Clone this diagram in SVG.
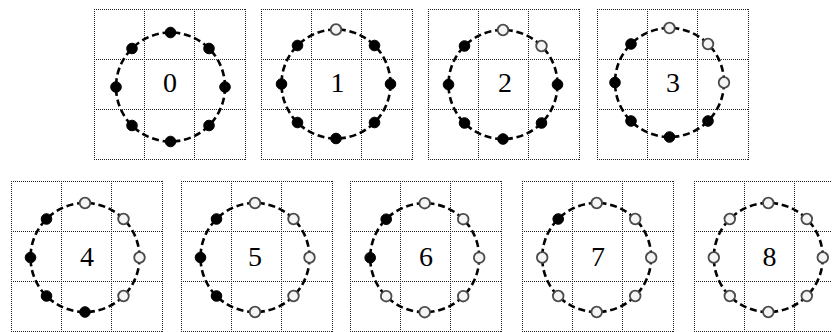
<svg xmlns="http://www.w3.org/2000/svg" width="832" height="332" viewBox="0 0 832 332">
<style>
.grid{fill:none;stroke:#222;stroke-width:1;stroke-dasharray:1 1}
.ring{fill:none;stroke:#000;stroke-width:2.6;stroke-dasharray:7 3.8}
.b{fill:#000;stroke:#000;stroke-width:1}
.w{fill:#f4f4f4;stroke:#4a4a4a;stroke-width:1.8}
.lbl{font-family:"Liberation Serif","Times New Roman",serif;font-size:28px;fill:#000;text-anchor:middle}
</style>
<defs>
<path id="gridp" class="grid" d="M0 0.5H152 M0 50.5H152 M0 100.5H152 M0 150.5H152 M0.5 0V151 M50.5 0V151 M100.5 0V151 M151.5 0V151"/>
</defs>
<rect width="832" height="332" fill="#fff"/>

<g id="panel0">
<use href="#gridp" x="94" y="9"/>
<g transform="translate(170.5 87)">
<circle class="ring" r="54.5"/>
<circle class="b" cx="0" cy="-54.5" r="5.3"/><circle class="b" cx="38.5" cy="-38.5" r="5.3"/><circle class="b" cx="54.5" cy="0" r="5.3"/><circle class="b" cx="38.5" cy="38.5" r="5.3"/><circle class="b" cx="0" cy="54.5" r="5.3"/><circle class="b" cx="-38.5" cy="38.5" r="5.3"/><circle class="b" cx="-54.5" cy="0" r="5.3"/><circle class="b" cx="-38.5" cy="-38.5" r="5.3"/>
</g>
<text class="lbl" x="170" y="92">0</text>
</g>

<g id="panel1">
<use href="#gridp" x="261" y="9"/>
<g transform="translate(336 84)">
<circle class="ring" r="54.5"/>
<circle class="w" cx="0" cy="-54.5" r="5.3"/><circle class="b" cx="38.5" cy="-38.5" r="5.3"/><circle class="b" cx="54.5" cy="0" r="5.3"/><circle class="b" cx="38.5" cy="38.5" r="5.3"/><circle class="b" cx="0" cy="54.5" r="5.3"/><circle class="b" cx="-38.5" cy="38.5" r="5.3"/><circle class="b" cx="-54.5" cy="0" r="5.3"/><circle class="b" cx="-38.5" cy="-38.5" r="5.3"/>
</g>
<text class="lbl" x="337.5" y="92">1</text>
</g>

<g id="panel2">
<use href="#gridp" x="428" y="9"/>
<g transform="translate(503 84.5)">
<circle class="ring" r="54.5"/>
<circle class="w" cx="0" cy="-54.5" r="5.3"/><circle class="w" cx="38.5" cy="-38.5" r="5.3"/><circle class="b" cx="54.5" cy="0" r="5.3"/><circle class="b" cx="38.5" cy="38.5" r="5.3"/><circle class="b" cx="0" cy="54.5" r="5.3"/><circle class="b" cx="-38.5" cy="38.5" r="5.3"/><circle class="b" cx="-54.5" cy="0" r="5.3"/><circle class="b" cx="-38.5" cy="-38.5" r="5.3"/>
</g>
<text class="lbl" x="505" y="92">2</text>
</g>

<g id="panel3">
<use href="#gridp" x="597" y="9"/>
<g transform="translate(669.5 82.5)">
<circle class="ring" r="54.5"/>
<circle class="w" cx="0" cy="-54.5" r="5.3"/><circle class="w" cx="38.5" cy="-38.5" r="5.3"/><circle class="w" cx="54.5" cy="0" r="5.3"/><circle class="b" cx="38.5" cy="38.5" r="5.3"/><circle class="b" cx="0" cy="54.5" r="5.3"/><circle class="b" cx="-38.5" cy="38.5" r="5.3"/><circle class="b" cx="-54.5" cy="0" r="5.3"/><circle class="b" cx="-38.5" cy="-38.5" r="5.3"/>
</g>
<text class="lbl" x="673" y="92">3</text>
</g>

<g id="panel4">
<use href="#gridp" x="11" y="181"/>
<g transform="translate(85 257.5)">
<circle class="ring" r="54.5"/>
<circle class="w" cx="0" cy="-54.5" r="5.3"/><circle class="w" cx="38.5" cy="-38.5" r="5.3"/><circle class="w" cx="54.5" cy="0" r="5.3"/><circle class="w" cx="38.5" cy="38.5" r="5.3"/><circle class="b" cx="0" cy="54.5" r="5.3"/><circle class="b" cx="-38.5" cy="38.5" r="5.3"/><circle class="b" cx="-54.5" cy="0" r="5.3"/><circle class="b" cx="-38.5" cy="-38.5" r="5.3"/>
</g>
<text class="lbl" x="87" y="266">4</text>
</g>

<g id="panel5">
<use href="#gridp" x="181" y="181"/>
<g transform="translate(255 257.5)">
<circle class="ring" r="54.5"/>
<circle class="w" cx="0" cy="-54.5" r="5.3"/><circle class="w" cx="38.5" cy="-38.5" r="5.3"/><circle class="w" cx="54.5" cy="0" r="5.3"/><circle class="w" cx="38.5" cy="38.5" r="5.3"/><circle class="w" cx="0" cy="54.5" r="5.3"/><circle class="b" cx="-38.5" cy="38.5" r="5.3"/><circle class="b" cx="-54.5" cy="0" r="5.3"/><circle class="b" cx="-38.5" cy="-38.5" r="5.3"/>
</g>
<text class="lbl" x="255" y="266">5</text>
</g>

<g id="panel6">
<use href="#gridp" x="350" y="181"/>
<g transform="translate(424.7 257.7)">
<circle class="ring" r="54.5"/>
<circle class="w" cx="0" cy="-54.5" r="5.3"/><circle class="w" cx="38.5" cy="-38.5" r="5.3"/><circle class="w" cx="54.5" cy="0" r="5.3"/><circle class="w" cx="38.5" cy="38.5" r="5.3"/><circle class="w" cx="0" cy="54.5" r="5.3"/><circle class="w" cx="-38.5" cy="38.5" r="5.3"/><circle class="b" cx="-54.5" cy="0" r="5.3"/><circle class="b" cx="-38.5" cy="-38.5" r="5.3"/>
</g>
<text class="lbl" x="426" y="266">6</text>
</g>

<g id="panel7">
<use href="#gridp" x="522" y="181"/>
<g transform="translate(596.7 257.5)">
<circle class="ring" r="54.5"/>
<circle class="w" cx="0" cy="-54.5" r="5.3"/><circle class="w" cx="38.5" cy="-38.5" r="5.3"/><circle class="w" cx="54.5" cy="0" r="5.3"/><circle class="w" cx="38.5" cy="38.5" r="5.3"/><circle class="w" cx="0" cy="54.5" r="5.3"/><circle class="w" cx="-38.5" cy="38.5" r="5.3"/><circle class="w" cx="-54.5" cy="0" r="5.3"/><circle class="b" cx="-38.5" cy="-38.5" r="5.3"/>
</g>
<text class="lbl" x="598" y="266">7</text>
</g>

<g id="panel8">
<use href="#gridp" x="694" y="181"/>
<g transform="translate(768.3 257.5)">
<circle class="ring" r="54.5"/>
<circle class="w" cx="0" cy="-54.5" r="5.3"/><circle class="w" cx="38.5" cy="-38.5" r="5.3"/><circle class="w" cx="54.5" cy="0" r="5.3"/><circle class="w" cx="38.5" cy="38.5" r="5.3"/><circle class="w" cx="0" cy="54.5" r="5.3"/><circle class="w" cx="-38.5" cy="38.5" r="5.3"/><circle class="w" cx="-54.5" cy="0" r="5.3"/><circle class="w" cx="-38.5" cy="-38.5" r="5.3"/>
</g>
<text class="lbl" x="769.5" y="266">8</text>
</g>

<g id="connectors"/>
</svg>
